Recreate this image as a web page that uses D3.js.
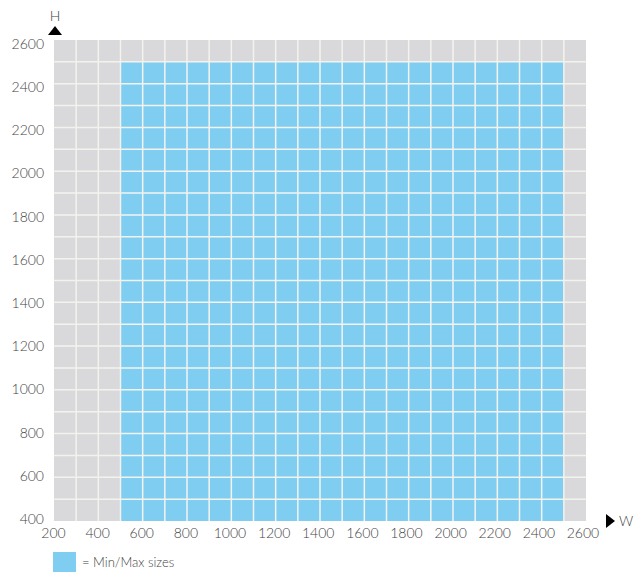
<!DOCTYPE html>
<html>
<head>
<meta charset="utf-8">
<script src="https://cdn.jsdelivr.net/npm/d3@7"></script>
<style>
  body { margin: 0; background: #fff; }
  text { font-family: Lato, "Open Sans", sans-serif; font-weight: 300; fill: #444; }
</style>
</head>
<body>
<div id="chart"></div>
<script>
// axis domains and ticks
const xDomain = [200, 2600];
const yDomain = [400, 2600];
const xTicks = [200, 400, 600, 800, 1000, 1200, 1400, 1600, 1800, 2000, 2200, 2400, 2600];
const yTicks = [400, 600, 800, 1000, 1200, 1400, 1600, 1800, 2000, 2200, 2400, 2600];
const gridStep = 100;
// min / max sizes area
const widthRange = [500, 2500];
const heightRange = [400, 2500];
const legendLabel = '= Min/Max sizes';

const width = 638, height = 572;

const svg = d3.select('#chart')
  .append('svg')
  .attr('width', width)
  .attr('height', height);

const x = d3.scaleLinear().domain(xDomain).range([54, 586]);
const y = d3.scaleLinear().domain(yDomain).range([521, 40]);
// tick labels sit on a slightly tighter spread than the grid
const xLabel = d3.scaleLinear().domain(xDomain).range([53.5, 583]);
const yLabel = d3.scaleLinear().domain(yDomain).range([519, 44]);

// gray background
svg.append('rect')
  .attr('x', x(xDomain[0]))
  .attr('y', y(yDomain[1]))
  .attr('width', x(xDomain[1]) - x(xDomain[0]))
  .attr('height', y(yDomain[0]) - y(yDomain[1]))
  .attr('fill', '#d9d9db');

// blue area
svg.append('rect')
  .attr('x', x(widthRange[0]))
  .attr('y', y(heightRange[1]))
  .attr('width', x(widthRange[1]) - x(widthRange[0]))
  .attr('height', y(heightRange[0]) - y(heightRange[1]))
  .attr('fill', '#80cdf2');

// grid
const xGrid = d3.range(xDomain[0] + gridStep, xDomain[1], gridStep);
const yGrid = d3.range(yDomain[0] + gridStep, yDomain[1], gridStep);

svg.append('g').selectAll('line')
  .data(xGrid)
  .enter()
  .append('line')
  .attr('x1', d => x(d)).attr('x2', d => x(d))
  .attr('y1', y(yDomain[0])).attr('y2', y(yDomain[1]))
  .attr('stroke', '#f3f3ee')
  .attr('stroke-width', 1.5);

svg.append('g').selectAll('line')
  .data(yGrid)
  .enter()
  .append('line')
  .attr('x1', x(xDomain[0])).attr('x2', x(xDomain[1]))
  .attr('y1', d => y(d)).attr('y2', d => y(d))
  .attr('stroke', '#f3f3ee')
  .attr('stroke-width', 1.5);

// y labels
svg.append('g').selectAll('text')
  .data(yTicks)
  .enter()
  .append('text')
  .attr('x', 44)
  .attr('y', d => yLabel(d))
  .attr('dy', '0.35em')
  .attr('text-anchor', 'end')
  .attr('font-size', 14)
  .text(d => d);

// x labels
svg.append('g').selectAll('text')
  .data(xTicks)
  .enter()
  .append('text')
  .attr('x', d => xLabel(d))
  .attr('y', 538)
  .attr('text-anchor', 'middle')
  .attr('font-size', 14)
  .text(d => d);

// axis arrows
svg.append('path')
  .attr('d', d3.line()([[48, 35], [62, 35], [55, 26]]))
  .attr('fill', '#000');
svg.append('text')
  .attr('x', 55).attr('y', 21)
  .attr('text-anchor', 'middle')
  .attr('font-size', 14)
  .text('H');

svg.append('path')
  .attr('d', d3.line()([[606, 514], [606, 528], [615, 521]]))
  .attr('fill', '#000');
svg.append('text')
  .attr('x', 619).attr('y', 526)
  .attr('font-size', 14)
  .text('W');

// legend
svg.append('rect')
  .attr('x', 53).attr('y', 552)
  .attr('width', 23).attr('height', 20)
  .attr('fill', '#80cdf2');
svg.append('text')
  .attr('x', 82).attr('y', 567)
  .attr('font-size', 13)
  .text(legendLabel);
</script>
</body>
</html>
